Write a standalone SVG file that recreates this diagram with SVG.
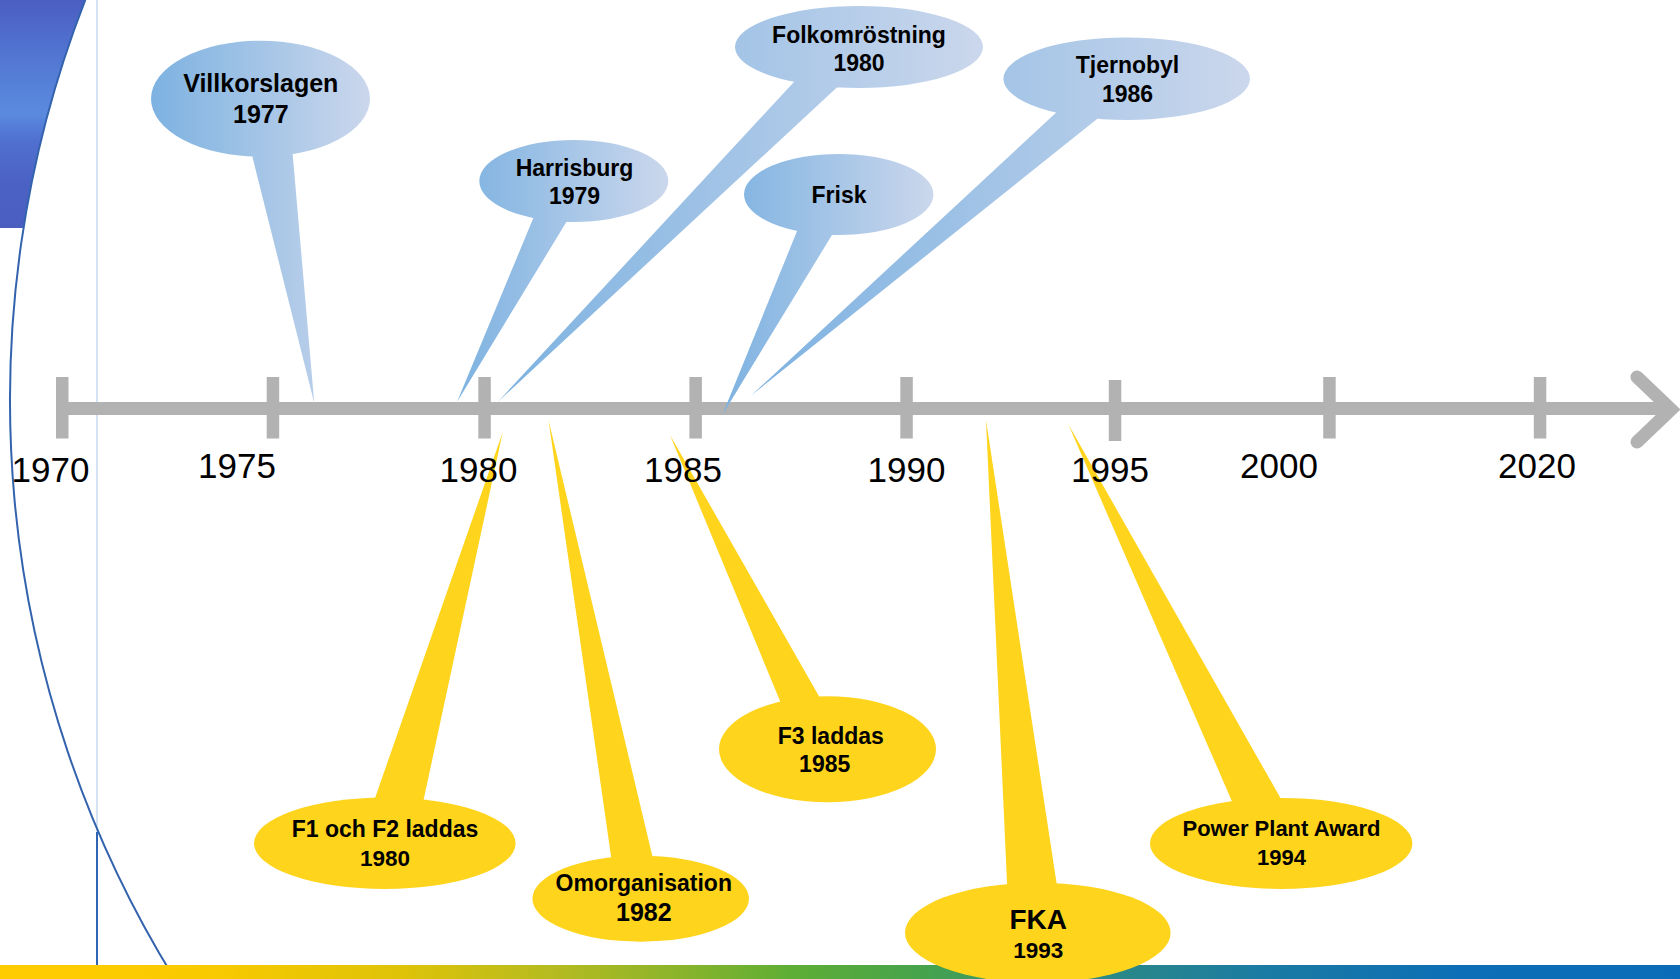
<svg xmlns="http://www.w3.org/2000/svg" width="1680" height="979" viewBox="0 0 1680 979">
  <defs>
    <linearGradient id="blueCallout" x1="0" y1="0" x2="1" y2="0">
      <stop offset="0" stop-color="#7DB2E1"/>
      <stop offset="1" stop-color="#CBD7EC"/>
    </linearGradient>
    <linearGradient id="cornerBlue" x1="0" y1="0" x2="0" y2="1">
      <stop offset="0" stop-color="#4B5EC2"/>
      <stop offset="0.25" stop-color="#5276D2"/>
      <stop offset="0.4" stop-color="#5784DA"/>
      <stop offset="0.5" stop-color="#5A8ADE"/>
      <stop offset="0.62" stop-color="#5070D0"/>
      <stop offset="0.8" stop-color="#4B62C4"/>
      <stop offset="1" stop-color="#4A5EC0"/>
    </linearGradient>
    <linearGradient id="bottomBar" x1="0" y1="0" x2="1" y2="0">
      <stop offset="0" stop-color="#FFCC00"/>
      <stop offset="0.12" stop-color="#FACA00"/>
      <stop offset="0.24" stop-color="#DEC308"/>
      <stop offset="0.33" stop-color="#B5BB20"/>
      <stop offset="0.4" stop-color="#8DB42A"/>
      <stop offset="0.47" stop-color="#5EAE35"/>
      <stop offset="0.55" stop-color="#46A34C"/>
      <stop offset="0.64" stop-color="#2E8C80"/>
      <stop offset="0.75" stop-color="#1B7BA2"/>
      <stop offset="0.87" stop-color="#0C6EB6"/>
      <stop offset="1" stop-color="#0A6CB8"/>
    </linearGradient>
    <style>
      .tick { fill: #B2B2B2; }
      .axis { stroke: #B2B2B2; stroke-width: 13; fill: none; }
      .year { font-family: "Liberation Sans", Arial, sans-serif; font-size: 35px; fill: #000; text-anchor: middle; }
      .lbl { font-family: "Liberation Sans", Arial, sans-serif; font-weight: bold; font-size: 23px; fill: #000; text-anchor: middle; }
      .blue { fill: url(#blueCallout); }
      .yellow { fill: #FED41D; }
    </style>
  </defs>

  <rect x="0" y="0" width="1680" height="979" fill="#FFFFFF"/>

  <!-- background decoration -->
  <g id="background">
    <path d="M0,0 L85.3,0 A1100,1100 0 0 0 23.5,228 L0,228 Z" fill="url(#cornerBlue)"/>
    <line x1="97" y1="0" x2="97" y2="832" stroke="#A9C6E6" stroke-width="1"/>
    <line x1="97" y1="832" x2="97" y2="966" stroke="#2F66B4" stroke-width="2"/>
    <path d="M85.3,0 A1100,1100 0 0 0 174.7,979" fill="none" stroke="#3463AE" stroke-width="2"/>
    <rect x="0" y="965" width="1680" height="14" fill="url(#bottomBar)"/>
  </g>

  <!-- timeline axis -->
  <g id="axis">
    <line class="axis" x1="56" y1="408.5" x2="1670" y2="408.5"/>
    <polyline class="axis" points="1637,377 1671,409.5 1637,442" stroke-linecap="round" stroke-linejoin="miter"/>
    <rect class="tick" x="56" y="377" width="12.5" height="61.5"/>
    <rect class="tick" x="266.7" y="377" width="12.5" height="61.5"/>
    <rect class="tick" x="478.3" y="377" width="12.5" height="61.5"/>
    <rect class="tick" x="689.4" y="377" width="12.5" height="61.5"/>
    <rect class="tick" x="900.3" y="377" width="12.5" height="61.5"/>
    <rect class="tick" x="1108.8" y="380" width="12.5" height="61"/>
    <rect class="tick" x="1323.2" y="377" width="12.5" height="61.5"/>
    <rect class="tick" x="1533.8" y="377" width="12.5" height="61.5"/>
  </g>

  <!-- blue callouts -->
  <g id="villkorslagen">
    <path class="blue" d="M151,98.7 A109.5,58 0 1 0 370,98.7 A109.5,58 0 1 0 151,98.7 Z M250.7,150 L314.3,403.3 L292.3,150 Z"/>
    <text class="lbl" style="font-size:25px" x="260.8" y="91.7">Villkorslagen</text>
    <text class="lbl" style="font-size:25px" x="260.8" y="122.7">1977</text>
  </g>
  <g id="harrisburg">
    <path class="blue" d="M479.3,181 A94.5,41 0 1 0 668.3,181 A94.5,41 0 1 0 479.3,181 Z M535,214 L457,402 L570,216 Z"/>
    <text class="lbl" x="574.5" y="175.7">Harrisburg</text>
    <text class="lbl" x="574.5" y="204">1979</text>
  </g>
  <g id="folkomrostning">
    <path class="blue" d="M735,47 A124,41 0 1 0 983,47 A124,41 0 1 0 735,47 Z M796.7,79 L497.7,402 L841.7,83 Z"/>
    <text class="lbl" x="859" y="42.7">Folkomröstning</text>
    <text class="lbl" x="859" y="71">1980</text>
  </g>
  <g id="frisk">
    <path class="blue" d="M744,194.5 A94.7,40.5 0 1 0 933.4,194.5 A94.7,40.5 0 1 0 744,194.5 Z M798.3,228 L722.3,415 L835,230 Z"/>
    <text class="lbl" x="839" y="202.7">Frisk</text>
  </g>
  <g id="tjernobyl">
    <path class="blue" d="M1003.4,78.7 A123.3,41.3 0 1 0 1250,78.7 A123.3,41.3 0 1 0 1003.4,78.7 Z M1060,109 L751.4,395.3 L1103.3,114 Z"/>
    <text class="lbl" x="1127.5" y="73.3">Tjernobyl</text>
    <text class="lbl" x="1127.5" y="101.7">1986</text>
  </g>

  <!-- yellow callouts -->
  <g id="f1f2">
    <polygon class="yellow" points="373.3,803 502.7,432.3 422.7,804"/>
    <ellipse class="yellow" cx="384.8" cy="843.3" rx="130.8" ry="45.7"/>
    <text class="lbl" x="385" y="836.7">F1 och F2 laddas</text>
    <text class="lbl" style="font-size:22.5px" x="385" y="866">1980</text>
  </g>
  <g id="omorganisation">
    <polygon class="yellow" points="611.7,861 548.5,420 653.3,860"/>
    <ellipse class="yellow" cx="640.7" cy="898.7" rx="108.3" ry="43"/>
    <text class="lbl" x="643.8" y="891">Omorganisation</text>
    <text class="lbl" style="font-size:25px" x="643.8" y="921">1982</text>
  </g>
  <g id="f3">
    <polygon class="yellow" points="781.7,705 670,435 822.3,702"/>
    <ellipse class="yellow" cx="827.5" cy="749.2" rx="108.5" ry="53"/>
    <text class="lbl" x="830.8" y="744">F3 laddas</text>
    <text class="lbl" x="824.7" y="772.3">1985</text>
  </g>
  <g id="fka">
    <polygon class="yellow" points="1007.3,889 986,420 1057.3,888"/>
    <ellipse class="yellow" cx="1037.8" cy="932.7" rx="132.8" ry="50"/>
    <text class="lbl" style="font-size:28px" x="1038.3" y="929">FKA</text>
    <text class="lbl" style="font-size:22.5px" x="1038.3" y="957.6">1993</text>
  </g>
  <g id="powerplant">
    <polygon class="yellow" points="1234,806 1068.3,424.3 1283.3,803"/>
    <ellipse class="yellow" cx="1281.2" cy="843.4" rx="131.2" ry="45.5"/>
    <text class="lbl" style="font-size:22px" x="1281.5" y="836.4">Power Plant Award</text>
    <text class="lbl" style="font-size:22px" x="1281.5" y="865">1994</text>
  </g>

  <!-- year labels -->
  <g id="years">
    <text class="year" x="50.5" y="482">1970</text>
    <text class="year" x="237" y="478">1975</text>
    <text class="year" x="478.5" y="482">1980</text>
    <text class="year" x="683" y="482">1985</text>
    <text class="year" x="906.5" y="482">1990</text>
    <text class="year" x="1110" y="482">1995</text>
    <text class="year" x="1279" y="478">2000</text>
    <text class="year" x="1537" y="478">2020</text>
  </g>
</svg>
